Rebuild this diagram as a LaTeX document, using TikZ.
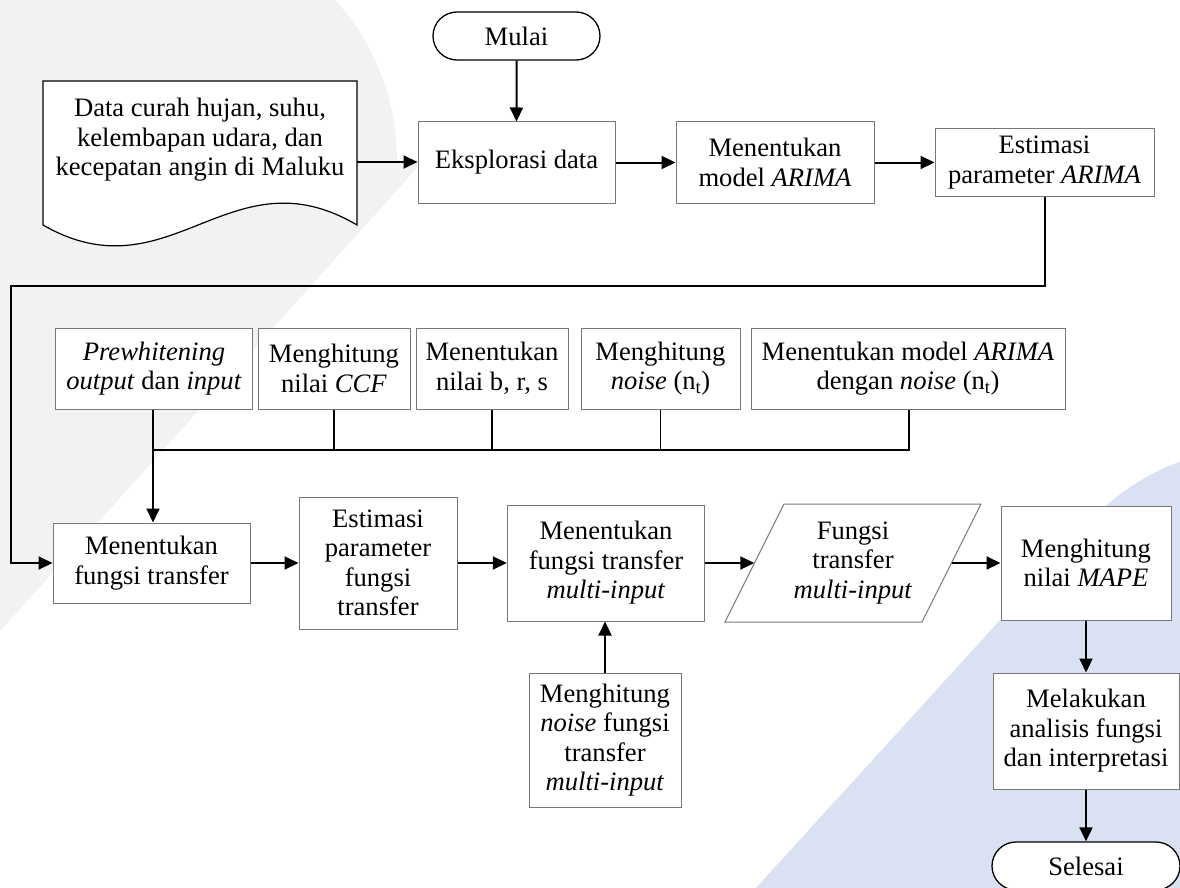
\documentclass[tikz,border=0pt]{standalone}
\usepackage{fontspec}
\setmainfont{Liberation Serif}
\usetikzlibrary{arrows.meta,shapes.misc,shapes.geometric,calc}
\definecolor{bggrey}{RGB}{242,242,242}
\definecolor{bgblue}{RGB}{217,225,242}
\definecolor{boxline}{RGB}{120,120,120}
\begin{document}
\begin{tikzpicture}[x=1pt,y=-1pt,
  every node/.style={font=\fontsize{26.6}{29.5}\selectfont},
  box/.style={draw=boxline, line width=1pt, fill=white, align=center, inner sep=0pt},
  term/.style={draw=black, line width=1.3pt, fill=white, rounded rectangle, align=center, inner sep=0pt},
  arr/.style={line width=2pt, -{Triangle[length=14pt,width=13pt]}},
  drop/.style={line width=1.5pt},
  bus/.style={line width=2pt}]
\useasboundingbox (0,0) rectangle (1180,888);
% background shapes
\begin{scope}
  \clip (0,0) rectangle (1180,888);
  \begin{scope}
    \clip (-400,-300) -- (838,-300) -- (-332,1000) -- (-400,1000) -- cycle;
    \fill[bggrey] (159.5,160) circle (237.5);
    \fill[bggrey] (-10,160) rectangle (700,900);
  \end{scope}
  \fill[bgblue] (1260,680) circle (232.5);
  \fill[bgblue] (1088,523.5) -- (745,900) -- (1300,900) -- (1300,680) -- (1260,680) -- cycle;
\end{scope}
% document shape
\node[minimum width=314pt, minimum height=162pt, inner sep=0pt] (data) at (200,162) {};
\draw[black, line width=1.2pt, fill=white] (43,81) -- (357,81) -- (357,225)
  .. controls (230,150) and (170,298) .. (43,225) -- cycle;
\node[align=center, inner sep=0pt] (datatxt) at (200,140) {Data curah hujan, suhu,\\kelembapan udara, dan\\kecepatan angin di Maluku};
% top row
\node[term, minimum width=167pt, minimum height=48pt] (mulai) at (516.5,36) {Mulai};
\node[box, minimum width=197pt, minimum height=81pt] (eks) at (516.5,162.5) {Eksplorasi data};
\node[box, minimum width=198pt, minimum height=81pt] (model) at (775,162.5) {Menentukan\\model \textit{ARIMA}};
\node[box, minimum width=219pt, minimum height=67pt] (estar) at (1044.5,162.5) {Estimasi\\parameter \textit{ARIMA}};
% second row
\node[box, minimum width=197pt, minimum height=81pt] (prew) at (154,368.5) {\textit{Prewhitening}\\\textit{output} dan \textit{input}};
\node[box, minimum width=152pt, minimum height=81pt] (ccf) at (334,368.5) {Menghitung\\nilai \textit{CCF}};
\node[box, minimum width=152pt, minimum height=81pt] (brs) at (492,368.5) {Menentukan\\nilai b, r, s};
\node[box, minimum width=159pt, minimum height=81pt] (noise) at (660.5,368.5) {Menghitung\\\textit{noise} (n\textsubscript{t})};
\node[box, minimum width=314pt, minimum height=81pt] (arn) at (908,368.5) {Menentukan model \textit{ARIMA}\\dengan \textit{noise} (n\textsubscript{t})};
% third row
\node[box, minimum width=197pt, minimum height=80pt] (mft) at (151.5,563) {Menentukan\\fungsi transfer};
\node[box, minimum width=158pt, minimum height=132pt] (epft) at (378,563) {Estimasi\\parameter\\fungsi\\transfer};
\node[box, minimum width=197.5pt, minimum height=116pt] (mfm) at (606,563) {Menentukan\\fungsi transfer\\\textit{multi-input}};
\draw[boxline, line width=1pt, fill=white] (784,504) -- (981,504) -- (922,622) -- (725,622) -- cycle;
\node[minimum width=197pt, minimum height=118pt, inner sep=0pt, align=center] (fungsi) at (853,563) {Fungsi\\transfer\\\textit{multi-input}};
\node[box, minimum width=170pt, minimum height=114pt] (mape) at (1086,563) {Menghitung\\nilai \textit{MAPE}};
\node[box, minimum width=186pt, minimum height=116pt] (melak) at (1086,731) {Melakukan\\analisis fungsi\\dan interpretasi};
\node[term, minimum width=188pt, minimum height=48pt] (sels) at (1086,866) {Selesai};
\node[box, minimum width=152pt, minimum height=134pt] (mnoise) at (605,740) {Menghitung\\\textit{noise} fungsi\\transfer\\\textit{multi-input}};
% connectors
\draw[arr] (mulai) -- (eks);
\draw[arr] (data.east) -- (data.east -| eks.west);
\draw[arr] (eks) -- (model);
\draw[arr] (model) -- (estar);
\coordinate (c1) at (1044.5,286);
\coordinate (c2) at (11,286);
\draw[arr] (estar.south) -- (c1) -- (c2) |- (mft.west);
\coordinate (busL) at (153,450);
\coordinate (busR) at (909,450);
\draw[drop] (prew.south -| busL) -- (busL);
\draw[drop] (ccf.south) -- (ccf.south |- busL);
\draw[drop] (brs.south) -- (brs.south |- busL);
\draw[drop] (noise.south) -- (noise.south |- busL);
\draw[bus] (busL) -- (busR) -- (busR |- arn.south);
\draw[arr] (busL) -- (busL |- mft.north);
\draw[arr] (mft) -- (epft);
\draw[arr] (epft) -- (mfm);
\draw[arr] (mfm) -- (fungsi);
\draw[arr] (fungsi) -- (mape);
\draw[arr] (mape) -- (melak);
\draw[arr] (melak) -- (sels);
\draw[arr] (mnoise.north) -- (mnoise.north |- mfm.south);
\end{tikzpicture}
\end{document}
